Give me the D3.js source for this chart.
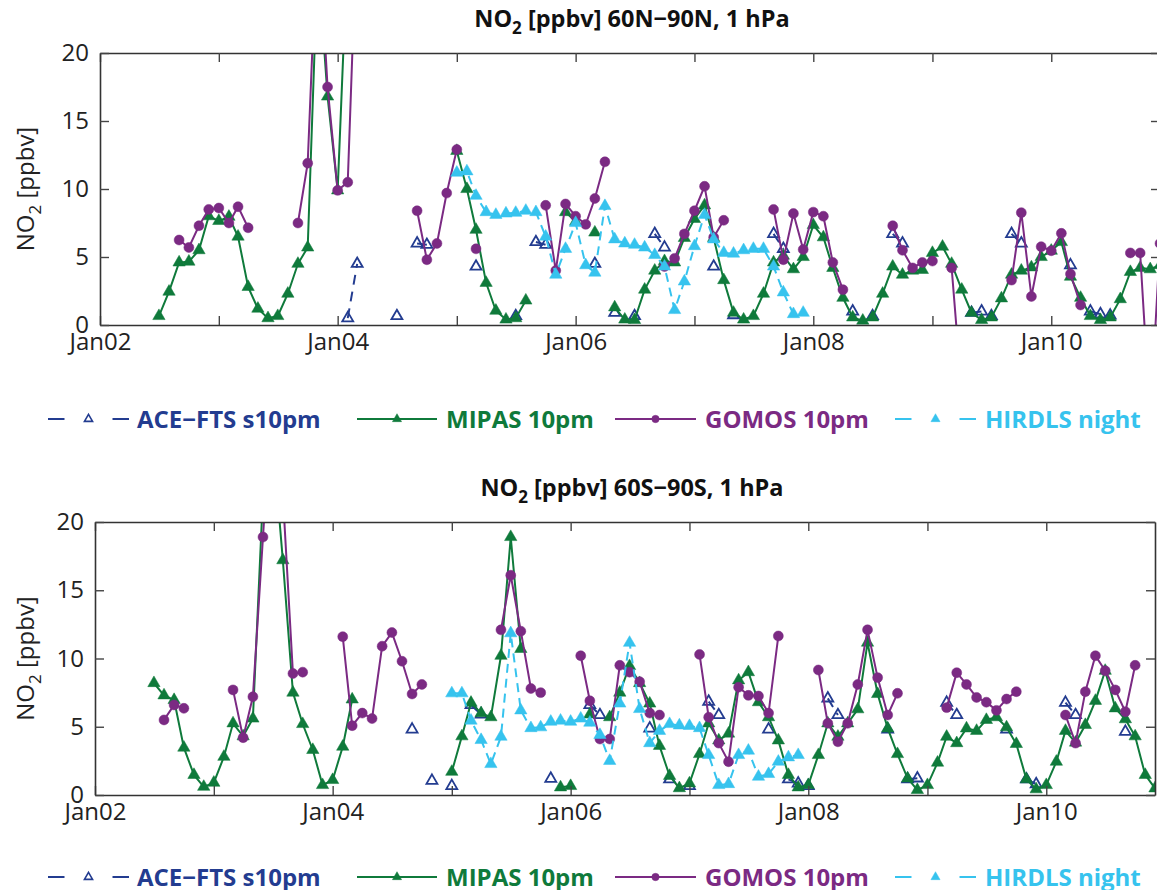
<!DOCTYPE html>
<html>
<head>
<meta charset="utf-8">
<script src="https://cdn.jsdelivr.net/npm/d3@7/dist/d3.min.js"></script>
<style>
  body { margin: 0; background: #fff; }
  svg { font-family: "Open Sans", sans-serif; }
</style>
</head>
<body>
<svg id="chart" width="1157" height="890"></svg>
<script>
const _ = null;

// every array starts at the given month, counted from Jan 2002 (0 = Jan 2002)
// --- 60N-90N ---
const aceNStart = 25;
const aceN = [0.5, 4.5, _, _, _, 0.66, _, 6.0, 5.9, _, _, _, _, 4.3, _, _, _, 0.66, _, 6.1, 5.9, _, _, _, _, 4.5, _, 0.9, _, 0.66, _, 6.7, 5.7, _, _, _, _, 4.3, _, 0.73, _, _, _, 6.7, 5.6, _, _, _, _, _, _, 1.0, _, 0.66, _, 6.7, 6.0, _, _, _, _, _, _, 0.9, 1.0, 0.66, _, 6.7, 6.0, _, _, _, _, 4.4, _, 1.0, 0.8, 0.7];

const mipasNStart = 6;
const mipasN = [0.66, 2.45, 4.6, 4.66, 5.5, 8.0, 7.65, 7.96, 6.5, 2.8, 1.2, 0.5, 0.66, 2.3, 4.5, 5.7, 27, 16.8, 9.9, 28,
  _, _, _, _, _, _, _, _, _, _,
  12.8, 10.0, 7.0, 3.1, 1.05, 0.4, 0.5, 1.8, _, _, _, 8.3, 7.6, _, 6.8, _, 1.3, 0.4,
  0.37, 2.6, 4.0, 4.7, 4.6, 6.4, 7.8, 8.8, 6.4, 3.3, 0.9, 0.4, 0.66, 2.3, 4.6, 5.1, 4.1, 5.0,
  7.35, 6.45, 4.2, 2.0, 0.56, 0.32, 0.56, 2.3, 4.3, 3.7, 4.0, 4.05, 5.3, 5.76, 4.5, 2.6, 0.9, 0.37,
  0.56, 1.96, 3.7, 4.0, 4.24, 5.0, 5.46, 6.1, 3.55, 2.0, 0.66, 0.37, 0.56, 1.9, 3.9, 4.2, 4.1, 4.4];

const gomosNStart = 8;
const gomosN = [6.25, 5.7, 7.3, 8.5, 8.6, 7.5, 8.7, 7.15, _, _, _, _, 7.5, 11.9, 30, 17.5, 9.9, 10.5, 30,
  _, _, _, _, _, 8.4, 4.8, 6.0, 9.7, 12.9, _, 5.6, _, _, _, _, _, _,
  8.8, 4.0, 8.9, 8.0, 7.4, 9.3, 12.0, _, _, _, _, _, 4.3, 4.9, 6.7, 8.4, 10.2, 6.45, 7.7, _, _, _, _,
  8.5, 4.8, 8.2, 5.55, 8.3, 8.0, 4.6, 2.6, _, _, _, _, 7.3, 5.5, 4.2, 4.6, 4.7, _, 4.2, -5, _, _, _, _,
  3.3, 8.26, 2.1, 5.76, 5.46, 6.74, 3.75, 1.47, _, _, _, _, 5.3, 5.3, -7, 6];

const hirdlsNStart = 36;
const hirdlsN = [11.2, 11.3, 9.5, 8.3, 8.1, 8.2, 8.25, 8.4, 8.3, 6.5, 3.7, 5.6, 7.5, 4.4, 3.85, 8.75, 6.3, 6.0,
  5.9, 5.7, 5.15, 4.3, 1.1, 3.2, 5.8, 8.1, 6.3, 5.3, 5.25, 5.5, 5.6, 5.6, 4.3, 2.4, 0.8, 0.9];

// --- 60S-90S ---
const aceSStart = 32;
const aceS = [4.8, _, 1.05, _, 0.66, _, 6.6, 5.9, _, _, _, _, _, _, 1.2, _, _, _, 6.6, 5.86, _, _, _, _,
  4.88, _, 1.15, _, 0.66, _, 6.84, 5.86, _, _, _, _, 4.8, _, 1.15, 0.85, 0.66, _, 7.08, 5.86, _, _, _, _,
  4.8, _, 1.15, 1.22, _, _, 6.76, 5.86, _, _, _, _, 4.8, _, 1.15, 0.8, _, _, 6.76, 5.86, _, _, _, _, 4.64];

const mipasSStart = 6;
const mipasS = [8.2, 7.3, 6.96, 3.47, 1.47, 0.6, 0.9, 2.8, 5.25, 4.3, 5.6, 22, 26, 17.2, 7.5, 5.2, 3.3, 0.73, 1.1, 3.54, 7.0,
  _, _, _, _, _, _, _, _, _,
  1.7, 4.3, 6.76, 6.0, 5.7, 10.2, 18.9, 10.7, _, _, _, 0.56, 0.66, _, 5.9, _, 5.7, 7.5,
  9.45, 8.2, 6.7, 3.6, 1.4, 0.5, 0.85, 3.0, 5.25, 4.0, 4.5, 8.4, 9.0, 6.8, 5.7, 4.0, 1.47, 0.56,
  0.73, 2.93, 5.25, 4.27, 5.25, 6.28, 11.16, 7.4, 4.88, 3.0, 1.22, 0.37, 0.73, 2.37, 4.27, 3.8, 4.88, 4.7,
  5.5, 5.7, 4.96, 3.74, 1.15, 0.42, 0.73, 2.44, 4.7, 3.84, 5.13, 6.9, 9.1, 6.35, 5.55, 4.3, 1.47, 0.49];

const gomosSStart = 7;
const gomosS = [5.5, 6.6, 6.35, _, _, _, _, 7.7, 4.2, 7.2, 18.9, 30, 22, 8.9, 9.0, _, _, _,
  11.6, 5.08, 6.0, 5.6, 10.9, 11.9, 9.8, 7.4, 8.1, _, _, _, _, _, _, _,
  12.1, 16.1, 12.0, 7.8, 7.5, _, _, _, 10.2, 6.9, 4.1, 4.1, 9.5, 9.0, 8.3, 6.0, 5.86, _, _, _,
  10.3, 5.7, 3.8, 2.44, 7.9, 7.3, 7.25, 6.0, 11.65, _, _, _, 9.16, 5.25, 3.9, 5.25, 8.1, 12.1, 8.6, 5.86, 7.45,
  _, _, _, _, 6.4, 8.96, 8.1, 7.15, 6.8, 6.2, 7.03, 7.57, _, _, _, _, 5.86, 3.8, 7.57, 10.2, 9.1, 7.7, 6.1, 9.5];

const hirdlsSStart = 36;
const hirdlsS = [7.45, 7.45, 5.45, 4.03, 2.27, 4.27, 11.85, 6.2, 4.9, 4.96, 5.37, 5.45, 5.37, 5.6, 5.3, 4.4, 2.5, 6.7,
  11.15, 6.3, 3.8, 4.7, 5.2, 5.1, 5.06, 4.9, 2.93, 0.73, 0.8, 2.93, 3.25, 1.34, 1.54, 2.44, 2.76, 2.93];

const seriesNames = ["ACE\u2212FTS s10pm", "MIPAS 10pm", "GOMOS 10pm", "HIRDLS night"];
const seriesColors = ["#233c90", "#0f7a3b", "#7b2a83", "#36c3ee"];
const yTicks = [0, 5, 10, 15, 20];

const svg = d3.select("#chart");

function toPoints(start, values) {
    return values.map((v, i) => ({ date: new Date(2002, start + i, 1), value: v }));
}

// estilo de cada serie: linea, marcador
const styles = [
    { dash: "10,7", symbol: d3.symbolTriangle, size: 52, fill: "none" },
    { dash: null, symbol: d3.symbolTriangle, size: 66, fill: "color" },
    { dash: null, symbol: d3.symbolCircle, size: 78, fill: "color" },
    { dash: "9,6", symbol: d3.symbolTriangle, size: 66, fill: "color" }
];

function drawPanel(cfg) {
    const x = d3.scaleTime()
        .domain([new Date(2002, 0, 1), new Date(2010, 11, 1)])
        .range([cfg.left, cfg.right]);
    const y = d3.scaleLinear().domain([0, 20]).range([cfg.bottom, cfg.top]);

    const clipId = "clip-" + cfg.id;
    svg.append("clipPath").attr("id", clipId)
        .append("rect")
        .attr("x", cfg.left).attr("y", cfg.top)
        .attr("width", cfg.right - cfg.left).attr("height", cfg.bottom - cfg.top);

    const plot = svg.append("g").attr("clip-path", `url(#${clipId})`);

    const line = d3.line()
        .defined(d => d.value !== null)
        .x(d => x(d.date))
        .y(d => y(d.value));

    cfg.series.forEach((pts, k) => {
        const st = styles[k];
        const color = seriesColors[k];
        plot.append("path")
            .datum(pts)
            .attr("d", line)
            .attr("fill", "none")
            .attr("stroke", color)
            .attr("stroke-width", 2)
            .attr("stroke-dasharray", st.dash);

        plot.selectAll(".m" + k)
            .data(pts.filter(d => d.value !== null))
            .enter()
            .append("path")
            .attr("class", "m" + k)
            .attr("transform", d => `translate(${x(d.date)},${y(d.value)})`)
            .attr("d", d3.symbol().type(st.symbol).size(st.size))
            .attr("fill", st.fill === "none" ? "none" : color)
            .attr("stroke", color)
            .attr("stroke-width", st.fill === "none" ? 1.8 : 0.5);
    });

    // ejes con ticks hacia dentro
    const years = d3.timeYear.every(1);
    const fmt = d3.timeFormat("%b%y");

    const axB = svg.append("g")
        .attr("transform", `translate(0,${cfg.bottom})`)
        .call(d3.axisBottom(x).ticks(years).tickSizeInner(-9).tickSizeOuter(0).tickPadding(8)
            .tickFormat(d => d.getFullYear() % 2 === 0 ? fmt(d) : ""));
    svg.append("g")
        .attr("transform", `translate(0,${cfg.top})`)
        .call(d3.axisTop(x).ticks(years).tickSizeInner(-9).tickSizeOuter(0).tickFormat(""));
    const axL = svg.append("g")
        .attr("transform", `translate(${cfg.left},0)`)
        .call(d3.axisLeft(y).tickValues(yTicks).tickSizeInner(-9).tickSizeOuter(0).tickPadding(11));
    svg.append("g")
        .attr("transform", `translate(${cfg.right},0)`)
        .call(d3.axisRight(y).tickValues(yTicks).tickSizeInner(-9).tickSizeOuter(0).tickFormat(""));

    svg.selectAll(".domain").attr("stroke", "#333").attr("stroke-width", 1.6);
    svg.selectAll(".tick line").attr("stroke", "#444").attr("stroke-width", 1.4);
    axB.selectAll("text").attr("font-size", 24).attr("fill", "#222").attr("font-family", "Open Sans");
    axL.selectAll("text").attr("font-size", 24).attr("fill", "#222").attr("font-family", "Open Sans");

    // titulo
    const t = svg.append("text")
        .attr("x", 632).attr("y", cfg.top - 26)
        .attr("text-anchor", "middle")
        .attr("font-size", 23.5)
        .attr("font-weight", "bold")
        .attr("fill", "#111");
    t.append("tspan").text("NO");
    t.append("tspan").attr("dy", 7).attr("font-size", 17).text("2");
    t.append("tspan").attr("dy", -7).text(" [ppbv] " + cfg.title);

    // etiqueta eje y
    const yl = svg.append("text")
        .attr("transform", `translate(34,${(cfg.top + cfg.bottom) / 2}) rotate(-90)`)
        .attr("text-anchor", "middle")
        .attr("font-size", 24)
        .attr("fill", "#222");
    yl.append("tspan").text("NO");
    yl.append("tspan").attr("dy", 7).attr("font-size", 17).text("2");
    yl.append("tspan").attr("dy", -7).text(" [ppbv]");

    // leyenda
    const legendX = [[48, 129, 137], [357, 437, 446], [615, 696, 705], [895, 976, 985]];
    const ly = cfg.legendY;
    legendX.forEach((p, k) => {
        const st = styles[k];
        const color = seriesColors[k];
        const cx = (p[0] + p[1]) / 2;
        if (st.dash) {
            svg.append("line").attr("x1", p[0]).attr("x2", cx - 24).attr("y1", ly).attr("y2", ly)
                .attr("stroke", color).attr("stroke-width", 2);
            svg.append("line").attr("x1", cx + 24).attr("x2", p[1]).attr("y1", ly).attr("y2", ly)
                .attr("stroke", color).attr("stroke-width", 2);
        } else {
            svg.append("line").attr("x1", p[0]).attr("x2", p[1]).attr("y1", ly).attr("y2", ly)
                .attr("stroke", color).attr("stroke-width", 2);
        }
        svg.append("path")
            .attr("transform", `translate(${cx},${ly})`)
            .attr("d", d3.symbol().type(st.symbol).size(st.size * 0.55))
            .attr("fill", st.fill === "none" ? "none" : color)
            .attr("stroke", color)
            .attr("stroke-width", st.fill === "none" ? 1.6 : 0.5);
        svg.append("text")
            .attr("x", p[2]).attr("y", ly + 9)
            .attr("font-size", 24)
            .attr("font-weight", "bold")
            .attr("fill", color)
            .text(seriesNames[k]);
    });
}

drawPanel({
    id: "north", title: "60N\u221290N, 1 hPa",
    left: 100, right: 1160, top: 53, bottom: 325, legendY: 419,
    series: [toPoints(aceNStart, aceN), toPoints(mipasNStart, mipasN),
             toPoints(gomosNStart, gomosN), toPoints(hirdlsNStart, hirdlsN)]
});

drawPanel({
    id: "south", title: "60S\u221290S, 1 hPa",
    left: 95, right: 1155, top: 522, bottom: 795, legendY: 877,
    series: [toPoints(aceSStart, aceS), toPoints(mipasSStart, mipasS),
             toPoints(gomosSStart, gomosS), toPoints(hirdlsSStart, hirdlsS)]
});
</script>
</body>
</html>
